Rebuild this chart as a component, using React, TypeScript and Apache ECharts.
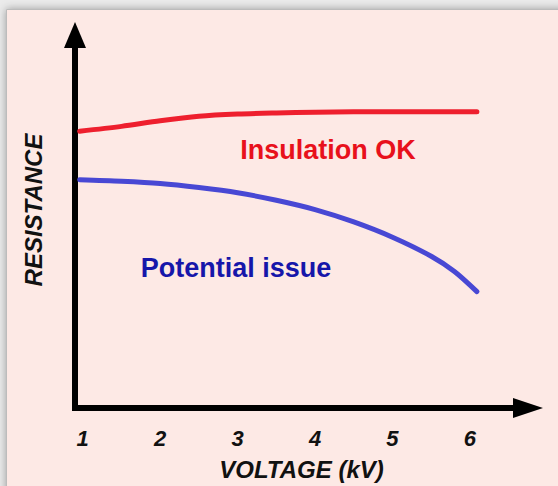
import React, { useEffect, useRef } from "react";
import * as echarts from "echarts";

const voltage = [0.96, 1.5, 2, 2.5, 3, 3.5, 4, 4.5, 5, 5.5, 5.8, 6.09];
const insulationOK = [74.2, 75.5, 77.0, 78.2, 78.8, 79.1, 79.3, 79.4, 79.4, 79.4, 79.4, 79.4];
const potentialIssue = [61.2, 60.8, 60.2, 59.1, 57.7, 55.7, 53.2, 49.9, 45.8, 40.7, 36.6, 31.2];
const tickLabels = [1, 2, 3, 4, 5, 6];

const FONT = "'Liberation Sans', Arial, sans-serif";

export default function App() {
  const ref = useRef<HTMLDivElement>(null);
  useEffect(() => {
    if (!ref.current) return;
    const chart = echarts.init(ref.current, undefined, { renderer: "svg" });
    chart.setOption({
      animation: false,
      backgroundColor: "#ebebeb",
      graphic: [
        {
          type: "rect",
          z: -10,
          shape: { x: 6.5, y: 9.5, width: 700, height: 700 },
          style: {
            fill: "#fde9e5",
            stroke: "#bcbcbc",
            lineWidth: 1,
            shadowBlur: 8,
            shadowColor: "rgba(0,0,0,0.35)",
          },
        },
        {
          type: "text",
          x: 328,
          y: 150,
          style: {
            text: "Insulation OK",
            fill: "#e8111c",
            font: `bold 27px ${FONT}`,
            align: "center",
            verticalAlign: "middle",
          },
        },
        {
          type: "text",
          x: 236,
          y: 268,
          style: {
            text: "Potential issue",
            fill: "#1616aa",
            font: `bold 27px ${FONT}`,
            align: "center",
            verticalAlign: "middle",
          },
        },
        {
          type: "text",
          x: 33,
          y: 210,
          rotation: Math.PI / 2,
          style: {
            text: "RESISTANCE",
            fill: "#111",
            font: `italic bold 24px ${FONT}`,
            align: "center",
            verticalAlign: "middle",
          },
        },
      ],
      grid: { left: 75, right: 30, top: 35, bottom: 73 },
      xAxis: {
        type: "value",
        min: 0.9,
        max: 6.75,
        name: "VOLTAGE (kV)",
        nameLocation: "middle",
        nameGap: 49,
        nameTextStyle: {
          color: "#111",
          fontFamily: FONT,
          fontSize: 24,
          fontWeight: "bold",
          fontStyle: "italic",
        },
        axisLine: {
          show: true,
          symbol: ["none", "triangle"],
          symbolSize: [20, 30],
          lineStyle: { color: "#000", width: 6, cap: "square" },
        },
        axisTick: { show: false },
        splitLine: { show: false },
        axisLabel: {
          customValues: tickLabels,
          margin: 19,
          color: "#111",
          fontFamily: FONT,
          fontSize: 22,
          fontWeight: "bold",
          fontStyle: "italic",
        },
      },
      yAxis: {
        type: "value",
        min: 0,
        max: 100,
        axisLine: {
          show: true,
          symbol: ["none", "triangle"],
          symbolSize: [22, 26],
          lineStyle: { color: "#000", width: 6, cap: "square" },
        },
        axisTick: { show: false },
        axisLabel: { show: false },
        splitLine: { show: false },
      },
      series: [
        {
          name: "Insulation OK",
          type: "line",
          smooth: 0.3,
          showSymbol: false,
          data: voltage.map((v, i) => [v, insulationOK[i]]),
          lineStyle: { color: "#ee1f2e", width: 5, cap: "round" },
          itemStyle: { color: "#ee1f2e" },
        },
        {
          name: "Potential issue",
          type: "line",
          smooth: 0.3,
          showSymbol: false,
          data: voltage.map((v, i) => [v, potentialIssue[i]]),
          lineStyle: { color: "#4848d4", width: 5, cap: "round" },
          itemStyle: { color: "#4848d4" },
        },
      ],
    });
    return () => chart.dispose();
  }, []);
  return (
    <div
      ref={ref}
      style={{ position: "absolute", left: 0, top: 0, width: 558, height: 486 }}
    />
  );
}
